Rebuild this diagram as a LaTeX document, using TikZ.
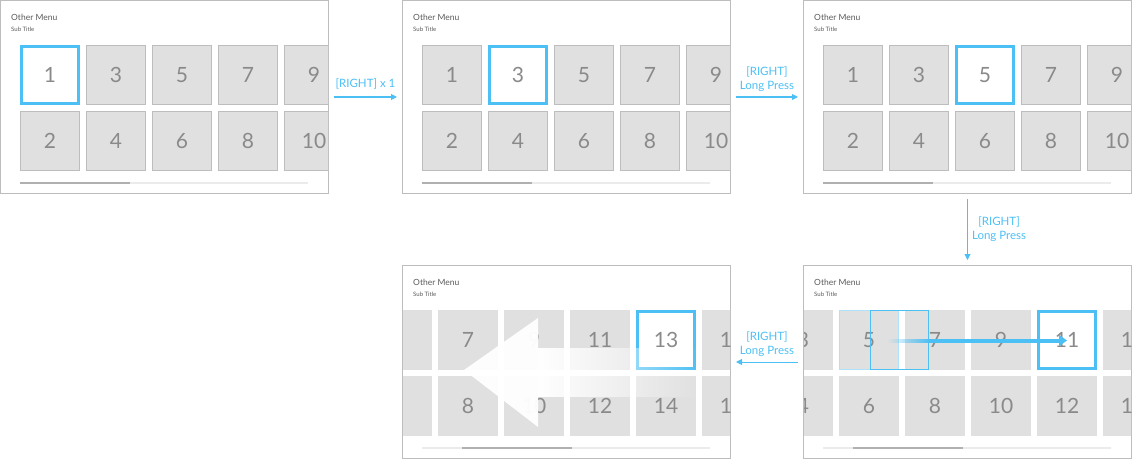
\documentclass[tikz,border=0pt]{standalone}
\usepackage{fontspec}
\setmainfont{Lato}
\usetikzlibrary{arrows.meta,positioning,calc,fadings}
\definecolor{Accent}{HTML}{4CBFF4}
\definecolor{TileGray}{HTML}{E0E0E0}
\definecolor{Edge}{HTML}{BDBDBD}
\definecolor{Digit}{HTML}{8A8A8A}
\definecolor{Caption}{HTML}{5A5A5A}
\definecolor{Track}{HTML}{EBEBEB}
\definecolor{Thumb}{HTML}{B0B0B0}
\tikzfading[name=fadeout, left color=transparent!0, right color=transparent!100]
\tikzfading[name=fadein, left color=transparent!100, right color=transparent!0]

\begin{document}
\begin{tikzpicture}[x=1pt,y=-1pt,
  screen/.style={draw=Edge,line width=1pt,fill=white,minimum width=328pt,minimum height=193pt,inner sep=0pt},
  tile/.style={fill=TileGray,draw=Edge,line width=0.8pt,minimum size=59pt,inner sep=0pt,text=Digit,font=\fontsize{21}{21}\selectfont},
  flattile/.style={tile,draw=none,minimum size=60pt},
  seltile/.style={tile,fill=white,draw=Accent,line width=3pt,minimum size=57pt},
  menutext/.style={anchor=base west,inner sep=0pt,text=Caption,font=\fontsize{8.5}{9}\selectfont},
  subtext/.style={menutext,font=\fontsize{6}{6}\selectfont},
  scrolltrack/.style={draw=Track,line width=2pt},
  scrollthumb/.style={draw=Thumb,line width=2pt},
  flow/.style={draw=Accent,line width=1pt,-{Triangle[length=6pt,width=6pt]},shorten <=5pt,shorten >=5pt},
  flowlabel/.style={text=Accent,font=\fontsize{11.5}{14}\selectfont,align=center,inner sep=1pt},
  ghost/.style={draw=Accent!45,line width=1pt},
  motion/.style={draw=Accent,line width=4pt,-{Triangle[length=8pt,width=11pt]}},
]
\useasboundingbox (0,0) rectangle (1133,460);

% top row of screens
\foreach \p/\ox/\sn in {a/0/1,b/402/3,c/803/5}{
  \node[screen] (\p) at (\ox+164.5,97) {};
  \node[menutext] (\p menu) at (\ox+11,20.5) {Other Menu};
  \node[subtext] (\p sub) at (\ox+11,31.5) {Sub Title};
  \begin{scope}
    \clip (\ox+1,1) rectangle (\ox+328,193);
    \foreach \i in {0,...,4}
      \foreach \j in {0,1}{
        \pgfmathtruncatemacro{\n}{2*\i+1+\j}
        \node[tile] (\p\n) at (\ox+50+66*\i,75+66*\j) {\n};
      }
  \end{scope}
  \node[seltile] (\p sel) at (\p\sn) {\sn};
  \draw[scrolltrack] (\ox+20,182.5) -- (\ox+308,182.5);
  \draw[scrollthumb] (\ox+20,182.5) -- (\ox+130,182.5);
}

% bottom row of screens
\foreach \p/\ox/\first/\hide/\sn/\tx in {d/803/3/0/11/50,e/402/5/1/13/60}{
  \node[screen] (\p) at (\ox+164.5,362) {};
  \node[menutext] (\p menu) at (\ox+11,285.5) {Other Menu};
  \node[subtext] (\p sub) at (\ox+11,296.5) {Sub Title};
  \begin{scope}
    \clip (\ox+1,266) rectangle (\ox+328,458);
    \foreach \k in {0,...,5}
      \foreach \j in {0,1}{
        \pgfmathtruncatemacro{\n}{\first+2*\k+\j}
        \node[flattile] (\p\n) at (\ox+66*\k,340+66*\j) {\ifnum\k<\hide\else\n\fi};
      }
  \end{scope}
  \node[seltile] (\p sel) at (\p\sn) {\sn};
  \draw[scrolltrack] (\ox+20,447.5) -- (\ox+308,447.5);
  \draw[scrollthumb] (\ox+\tx,447.5) -- (\ox+\tx+110,447.5);
}

% long press: focus slides over
\draw[ghost] (839.5,310.5) rectangle (898.5,369.5);
\draw[Accent,line width=1pt] (870.5,310.5) rectangle (928.5,369.5);
\coordinate (d tail) at (887,340.5);
\coordinate (d knee) at (930,340.5);
\fill[Accent,path fading=fadein] (887,338.5) rectangle (930,342.5);
\draw[motion] (d knee) -- (d knee -| d11);

% list scrolls back
\fill[white,opacity=0.96] (464,370) -- (538,318) -- (538,427) -- cycle;
\fill[white,path fading=fadeout] (538,348) rectangle (700,397);

\draw[flow] (a) -- node[flowlabel,above=6pt] (l1) {[RIGHT] x 1} (b);
\draw[flow] (b) -- node[flowlabel,above=4pt] (l2) {[RIGHT]\\Long Press} (c);
\draw[flow] (c) -- node[flowlabel,right=3pt] (l3) {[RIGHT]\\Long Press} (d);
\draw[flow] (d) -- node[flowlabel,above=4pt] (l4) {[RIGHT]\\Long Press} (e);
\end{tikzpicture}
\end{document}
